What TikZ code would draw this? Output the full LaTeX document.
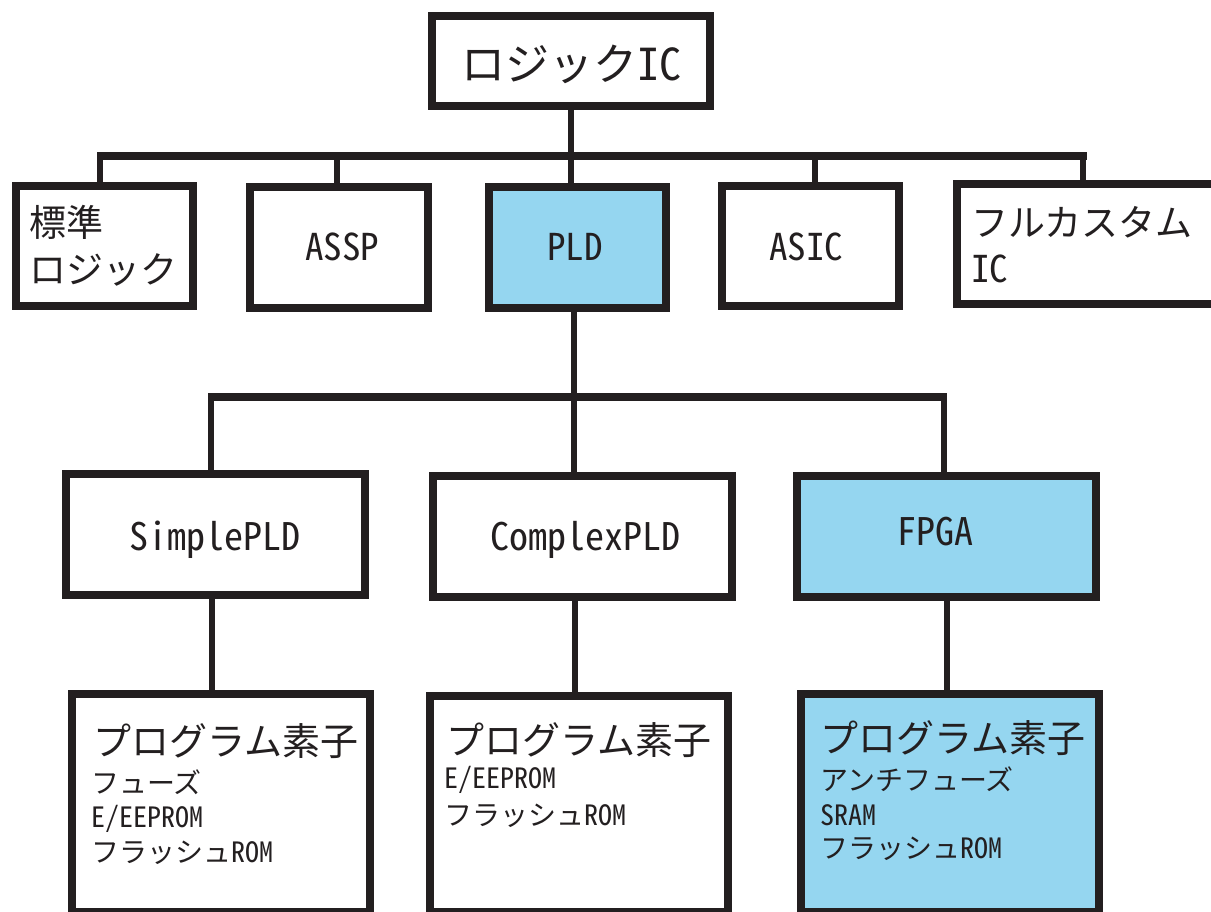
\documentclass[tikz,border=0pt]{standalone}
\usepackage{fontspec}
\setmainfont{Noto Sans CJK JP}
\newfontfamily\lat{Noto Sans CJK JP}[RawFeature=+hwid]
\definecolor{ink}{HTML}{231F20}
\definecolor{sky}{HTML}{95D6F0}
\tikzset{
  box/.style 2 args={draw=ink, line width=8pt, fill=white, inner sep=0pt,
    minimum width=#1pt, minimum height=#2pt},
  hot/.style={fill=sky},
  drop/.style={draw=ink, line width=6pt},
  bar/.style={draw=ink, line width=8pt},
  txt/.style={inner sep=0pt, text=ink},
  fA/.style={font=\fontsize{44}{50}\selectfont},
  fB/.style={font=\fontsize{37}{44}\selectfont},
  fC/.style={font=\fontsize{38}{44}\selectfont},
  fD/.style={font=\fontsize{28}{34}\selectfont},
}
\begin{document}
\begin{tikzpicture}[x=1pt,y=-1pt]
\useasboundingbox (0,0) rectangle (1211,911);
\clip (0,0) rectangle (1211,911);
% boxes
\node[box={278}{90}] (top) at (571,61) {};
\node[box={177}{120}] (std) at (104.5,246) {};
\node[box={178}{121}] (assp) at (339,247.5) {};
\node[box={177}{121},hot] (pld) at (577.5,247.5) {};
\node[box={177}{120}] (asic) at (810.5,246) {};
\node[box={264}{120}] (full) at (1089,244) {};
\node[box={299}{121}] (spld) at (215.5,534.5) {};
\node[box={299}{121}] (cpld) at (582.5,536.5) {};
\node[box={299}{121},hot] (fpga) at (946.5,536.5) {};
\node[box={298}{218}] (e1) at (221,803) {};
\node[box={298}{216}] (e2) at (579,804) {};
\node[box={298}{218},hot] (e3) at (950,803) {};
% connectors level 1 -> 2
\coordinate (j1) at (571,156);
\coordinate (b1l) at (97,156);
\coordinate (b1r) at (1087,156);
\coordinate (d1) at (100,156);
\coordinate (d2) at (337,156);
\coordinate (d4) at (815,156);
\coordinate (d5) at (1083,156);
\draw[drop] (top.south) -- (j1);
\draw[bar] (b1l) -- (b1r);
\draw[drop] (d1) -- (d1 |- std.north);
\draw[drop] (d2) -- (d2 |- assp.north);
\draw[drop] (j1) -- (j1 |- pld.north);
\draw[drop] (d4) -- (d4 |- asic.north);
\draw[drop] (d5) -- (d5 |- full.north);
% connectors PLD -> level 3
\coordinate (j2) at (574,397);
\coordinate (b2l) at (208,397);
\coordinate (b2r) at (947,397);
\coordinate (k1) at (211,397);
\coordinate (k3) at (944,397);
\draw[drop] (j2 |- pld.south) -- (j2);
\draw[bar] (b2l) -- (b2r);
\draw[drop] (k1) -- (k1 |- spld.north);
\draw[drop] (j2) -- (j2 |- cpld.north);
\draw[drop] (k3) -- (k3 |- fpga.north);
% level 3 -> level 4
\coordinate (m1) at (212,0);
\coordinate (m2) at (575,0);
\coordinate (m3) at (947,0);
\draw[drop] (m1 |- spld.south) -- (m1 |- e1.north);
\draw[drop] (m2 |- cpld.south) -- (m2 |- e2.north);
\draw[drop] (m3 |- fpga.south) -- (m3 |- e3.north);
% texts
\node[txt,fA,anchor=base] (ttop) at (571,80) {ロジック{\lat IC}};
\node[txt,fB,anchor=base west] (tstd1) at (29,236) {標準};
\node[txt,fB,anchor=base west] (tstd2) at (29,283) {ロジック};
\node[txt,fB,anchor=base] (tassp) at (342,260) {\lat ASSP};
\node[txt,fB,anchor=base] (tpld) at (575,260) {\lat PLD};
\node[txt,fB,anchor=base] (tasic) at (806,260) {\lat ASIC};
\node[txt,fB,anchor=base west] (tfull1) at (971,236) {フルカスタム};
\node[txt,fB,anchor=base west] (tfull2) at (971,282) {\lat IC};
\node[txt,fC,anchor=base] (tspld) at (215,550) {\lat SimplePLD};
\node[txt,fC,anchor=base] (tcpld) at (585,550) {\lat ComplexPLD};
\node[txt,fC,anchor=base] (tfpga) at (935,545) {\lat FPGA};
% bottom box 1
\node[txt,fC,anchor=base west] (a0) at (93,755) {プログラム素子};
\node[txt,fD,anchor=base west] (a1) at (91,793) {フューズ};
\node[txt,fD,anchor=base west] (a2) at (91,827) {\lat E/EEPROM};
\node[txt,fD,anchor=base west] (a3) at (91,862) {フラッシュ{\lat ROM}};
% bottom box 2
\node[txt,fC,anchor=base west] (b0) at (446,754) {プログラム素子};
\node[txt,fD,anchor=base west] (b1) at (444,788) {\lat E/EEPROM};
\node[txt,fD,anchor=base west] (b2) at (444,825) {フラッシュ{\lat ROM}};
% bottom box 3
\node[txt,fC,anchor=base west] (c0) at (820,752) {プログラム素子};
\node[txt,fD,anchor=base west] (c1) at (820,790) {アンチフューズ};
\node[txt,fD,anchor=base west] (c2) at (820,825) {\lat SRAM};
\node[txt,fD,anchor=base west] (c3) at (820,858) {フラッシュ{\lat ROM}};
\end{tikzpicture}
\end{document}
